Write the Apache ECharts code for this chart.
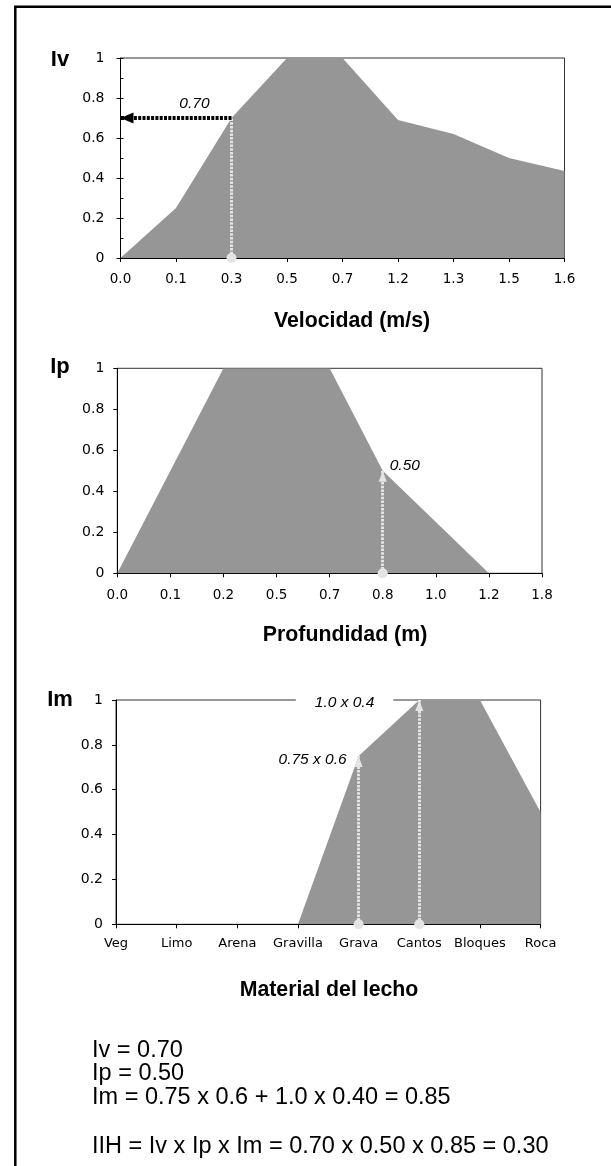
<!DOCTYPE html>
<html>
<head>
<meta charset="utf-8">
<script src="https://cdn.jsdelivr.net/npm/echarts@6/dist/echarts.min.js"></script>
<style>
html,body{margin:0;padding:0;background:#fff;}
#main{width:611px;height:1166px;}
</style>
</head>
<body>
<div id="main"></div>
<script>
// ---------- DATA ----------
const velCats = ['0.0','0.1','0.3','0.5','0.7','1.2','1.3','1.5','1.6'];
const ivValues = [0, 0.25, 0.70, 1, 1, 0.69, 0.62, 0.50, 0.435];

const depCats = ['0.0','0.1','0.2','0.5','0.7','0.8','1.0','1.2','1.8'];
const ipValues = [0, 0.5, 1, 1, 1, 0.5, 0.25, 0, 0];

const matCats = ['Veg','Limo','Arena','Gravilla','Grava','Cantos','Bloques','Roca'];
const imValues = [0, 0, 0, 0, 0.75, 1, 1, 0.5];

const yTickLabels = ['0','0.2','0.4','0.6','0.8','1'];

const ivReading = {cat: '0.3', value: 0.70, label: '0.70'};
const ipReading = {cat: '0.8', value: 0.50, label: '0.50'};
const imReadingA = {cat: 'Grava', value: 0.75, label: '0.75 x 0.6'};
const imReadingB = {cat: 'Cantos', value: 1.0, label: '1.0 x 0.4'};

const axisNames = ['Velocidad (m/s)', 'Profundidad (m)', 'Material del lecho'];
const indexNames = ['Iv', 'Ip', 'Im'];
const summaryLines = [
  'Iv = 0.70',
  'Ip = 0.50',
  'Im = 0.75 x 0.6 + 1.0 x 0.40 = 0.85',
  'IIH = Iv x Ip x Im = 0.70 x 0.50 x 0.85 = 0.30'
];

// ---------- STYLE ----------
const FILL = '#969696';
const TICKFONT = 'DejaVu Sans';
const SANS = 'Liberation Sans, Arial, sans-serif';
const LIGHT = '#e4e4e4';

const chart = echarts.init(document.getElementById('main'), null, {renderer: 'canvas'});

function xAxisFor(gi, cats, fs, margin) {
  return {
    type: 'category', gridIndex: gi, data: cats, boundaryGap: false,
    axisLine: {show: true, onZero: false, lineStyle: {color: '#000', width: 1}},
    axisTick: {show: true, length: 4, lineStyle: {color: '#000'}, interval: 0},
    axisLabel: {interval: 0, color: '#000', fontFamily: TICKFONT, fontSize: fs, margin: margin},
    splitLine: {show: false}
  };
}
function yAxisFor(gi, margin) {
  return {
    type: 'value', gridIndex: gi, min: 0, max: 1, interval: 0.2, position: 'left',
    axisLine: {show: true, lineStyle: {color: '#000', width: 1}},
    axisTick: {show: true, length: 4, lineStyle: {color: '#000'}},
    axisLabel: {color: '#000', fontFamily: TICKFONT, fontSize: 14, margin: margin,
      formatter: (v, i) => yTickLabels[i]},
    splitLine: {show: false}
  };
}

function grayArrow(cat, val, withHead) {
  return [
    {coord: [cat, 0], symbol: 'circle', symbolSize: 10,
     lineStyle: {color: LIGHT, width: 3, type: [2.5, 1.2]}},
    {coord: [cat, val], symbol: withHead ? 'triangle' : 'none', symbolSize: [8, 11], symbolOffset: [0, '50%']}
  ];
}

const labelStyle = {fontFamily: SANS, fontStyle: 'italic', fontSize: 15.5, color: '#000'};

const option = {
  animation: false,
  backgroundColor: '#fff',
  grid: [
    {left: 120.5, top: 58, width: 444, height: 200, show: true, borderColor: '#333', borderWidth: 1, backgroundColor: 'transparent'},
    {left: 117.3, top: 368.3, width: 424.7, height: 205, show: true, borderColor: '#333', borderWidth: 1, backgroundColor: 'transparent'},
    {left: 116, top: 700, width: 424.6, height: 224.3, show: true, borderColor: '#333', borderWidth: 1, backgroundColor: 'transparent'}
  ],
  xAxis: [
    xAxisFor(0, velCats, 13.5, 14),
    xAxisFor(1, depCats, 13.5, 15),
    xAxisFor(2, matCats, 13, 13)
  ],
  yAxis: [
    yAxisFor(0, 16),
    {type: 'value', gridIndex: 0, min: 0, max: 1, interval: 0.1, position: 'left', offset: 0,
     axisLine: {show: false}, axisLabel: {show: false}, splitLine: {show: false},
     axisTick: {show: true, inside: true, length: 3, lineStyle: {color: '#000'}}},
    yAxisFor(1, 13),
    yAxisFor(2, 13)
  ],
  series: [
    {
      type: 'line', xAxisIndex: 0, yAxisIndex: 0, data: ivValues,
      symbol: 'none', lineStyle: {width: 0}, areaStyle: {color: FILL, opacity: 1},
      silent: true, z: 2,
      markLine: {
        silent: true, animation: false, label: {show: false},
        data: [
          grayArrow(ivReading.cat, ivReading.value, false),
          [
            {coord: [ivReading.cat, ivReading.value], symbol: 'none',
             lineStyle: {color: '#000', width: 4, type: [3, 1.3]}},
            {coord: [velCats[0], ivReading.value], symbol: 'triangle', symbolSize: [11, 13], symbolOffset: [0, '50%']}
          ]
        ]
      },
      markPoint: {
        silent: true, animation: false,
        data: [{coord: [ivReading.cat, ivReading.value], symbol: 'circle', symbolSize: 0,
          label: Object.assign({show: true, position: 'left', distance: 22, offset: [0, -14],
            formatter: ivReading.label}, labelStyle)}]
      }
    },
    {
      type: 'line', xAxisIndex: 1, yAxisIndex: 2, data: ipValues,
      symbol: 'none', lineStyle: {width: 0}, areaStyle: {color: FILL, opacity: 1},
      silent: true, z: 2,
      markLine: {
        silent: true, animation: false, label: {show: false},
        data: [grayArrow(ipReading.cat, ipReading.value, true)]
      },
      markPoint: {
        silent: true, animation: false,
        data: [{coord: [ipReading.cat, ipReading.value], symbol: 'circle', symbolSize: 0,
          label: Object.assign({show: true, position: 'right', distance: 7, offset: [0, -5],
            formatter: ipReading.label}, labelStyle)}]
      }
    },
    {
      type: 'line', xAxisIndex: 2, yAxisIndex: 3, data: imValues,
      symbol: 'none', lineStyle: {width: 0}, areaStyle: {color: FILL, opacity: 1},
      silent: true, z: 2,
      markLine: {
        silent: true, animation: false, label: {show: false},
        data: [grayArrow(imReadingA.cat, imReadingA.value, true),
               grayArrow(imReadingB.cat, imReadingB.value, true)]
      },
      markPoint: {
        silent: true, animation: false,
        data: [
          {coord: [imReadingA.cat, imReadingA.value], symbol: 'circle', symbolSize: 0,
           label: Object.assign({show: true, position: 'left', distance: 12, offset: [0, 4],
             formatter: imReadingA.label}, labelStyle)},
          {coord: [imReadingB.cat, imReadingB.value], symbol: 'circle', symbolSize: 0,
           label: Object.assign({show: true, position: 'left', distance: 26, offset: [0, 3],
             backgroundColor: '#fff', padding: [1, 19], formatter: imReadingB.label}, labelStyle)}
        ]
      }
    }
  ],
  graphic: [
    {type: 'rect', shape: {x: 15.3, y: 6.8, width: 800, height: 1400}, style: {fill: 'none', stroke: '#000', lineWidth: 2.5}, silent: true, z: 100},
    {type: 'text', x: 60, y: 60, style: {text: indexNames[0], font: 'bold 22px ' + SANS, fill: '#000', textAlign: 'center', textVerticalAlign: 'middle'}},
    {type: 'text', x: 60, y: 367, style: {text: indexNames[1], font: 'bold 22px ' + SANS, fill: '#000', textAlign: 'center', textVerticalAlign: 'middle'}},
    {type: 'text', x: 60, y: 700, style: {text: indexNames[2], font: 'bold 22px ' + SANS, fill: '#000', textAlign: 'center', textVerticalAlign: 'middle'}},
    {type: 'text', x: 352, y: 321, style: {text: axisNames[0], font: 'bold 21.3px ' + SANS, fill: '#000', textAlign: 'center', textVerticalAlign: 'middle'}},
    {type: 'text', x: 345, y: 635, style: {text: axisNames[1], font: 'bold 21.3px ' + SANS, fill: '#000', textAlign: 'center', textVerticalAlign: 'middle'}},
    {type: 'text', x: 329, y: 990, style: {text: axisNames[2], font: 'bold 21.3px ' + SANS, fill: '#000', textAlign: 'center', textVerticalAlign: 'middle'}},
    {type: 'text', x: 92, y: 1051, style: {text: summaryLines[0], font: '23.5px ' + SANS, fill: '#000', textAlign: 'left', textVerticalAlign: 'middle'}},
    {type: 'text', x: 92, y: 1074, style: {text: summaryLines[1], font: '23.5px ' + SANS, fill: '#000', textAlign: 'left', textVerticalAlign: 'middle'}},
    {type: 'text', x: 92, y: 1098, style: {text: summaryLines[2], font: '23.5px ' + SANS, fill: '#000', textAlign: 'left', textVerticalAlign: 'middle'}},
    {type: 'text', x: 92, y: 1147, style: {text: summaryLines[3], font: '23.5px ' + SANS, fill: '#000', textAlign: 'left', textVerticalAlign: 'middle'}}
  ]
};
chart.setOption(option);
</script>
</body>
</html>
